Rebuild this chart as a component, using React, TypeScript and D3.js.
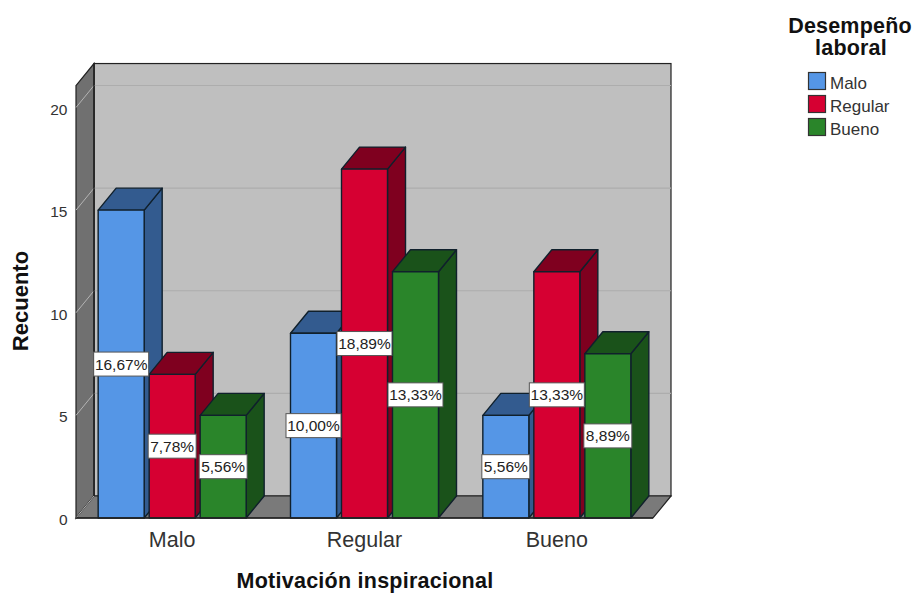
import React from "react";
import * as d3 from "d3";

const categories = ["Malo", "Regular", "Bueno"];
const seriesNames = ["Malo", "Regular", "Bueno"];
const malo = [15, 9, 5];
const regular = [7, 17, 12];
const bueno = [5, 12, 8];
const maloLabels = ["16,67%", "10,00%", "5,56%"];
const regularLabels = ["7,78%", "18,89%", "13,33%"];
const buenoLabels = ["5,56%", "13,33%", "8,89%"];
const yTicks = [0, 5, 10, 15, 20];
const frontColors = ["#5596e6", "#d60032", "#2a852a"];
const topColors = ["#335b8f", "#7f001f", "#1a521a"];
const sideColors = ["#335b8f", "#7f001f", "#1a521a"];

const values = [malo, regular, bueno];
const labels = [maloLabels, regularLabels, buenoLabels];
const font = "'Liberation Sans', Arial, sans-serif";

const W = 916;
const H = 593;
const left = 76;
const right = 653;
const base = 518;
const dx = 18;
const dy = -22;
const groupWidth = 148;

const y = d3.scaleLinear().domain([0, 20]).range([base, 107.5]);
const yMax = y(21.07);
const x0 = d3.scaleBand<string>().domain(categories).range([left, right]);
const x1 = d3
  .scaleBand<string>()
  .domain(seriesNames)
  .range([0, groupWidth])
  .paddingInner(0.098)
  .paddingOuter(0);

const pts = (p: number[][]) => p.map((q) => q.join(",")).join(" ");
const barStart = (cat: number, s: number) =>
  x0(categories[cat])! + (x0.bandwidth() - groupWidth) / 2 + x1(seriesNames[s])!;

function Bar({ cat, s }: { cat: number; s: number }) {
  const v = values[s][cat];
  const a = barStart(cat, s);
  const b = a + x1.bandwidth();
  const t = y(v);
  const edge = { stroke: "#10202c", strokeWidth: 1.4, strokeLinejoin: "round" as const };
  return (
    <g>
      <polygon
        points={pts([[b, t], [b + dx, t + dy], [b + dx, base + dy], [b, base]])}
        fill={sideColors[s]}
        {...edge}
      />
      <polygon
        points={pts([[a, t], [a + dx, t + dy], [b + dx, t + dy], [b, t]])}
        fill={topColors[s]}
        {...edge}
      />
      <rect x={a} y={t} width={b - a} height={base - t} fill={frontColors[s]} {...edge} />
    </g>
  );
}

function BarLabel({ cat, s }: { cat: number; s: number }) {
  const v = values[s][cat];
  const cx = barStart(cat, s) + x1.bandwidth() / 2;
  const cy = y(v / 2);
  const text = labels[s][cat];
  const w = text.length >= 6 ? 55 : 48;
  return (
    <g>
      <rect
        x={cx - w / 2}
        y={cy - 12}
        width={w}
        height={24}
        fill="#ffffff"
        stroke="#555555"
        strokeWidth={1}
      />
      <text
        x={cx}
        y={cy + 5.5}
        textAnchor="middle"
        fontSize={15.5}
        fontFamily={font}
        fill="#222222"
      >
        {text}
      </text>
    </g>
  );
}

export default function App() {
  return (
    <svg
      width={W}
      height={H}
      viewBox={`0 0 ${W} ${H}`}
      style={{ position: "absolute", left: 0, top: 0, background: "#ffffff" }}
    >
      {/* Back wall */}
      <rect
        x={left + dx}
        y={yMax + dy}
        width={right - left}
        height={base - yMax}
        fill="#bfbfbf"
        stroke="#222222"
        strokeWidth={1.2}
      />
      {/* Side wall */}
      <polygon
        points={pts([
          [left, yMax],
          [left + dx, yMax + dy],
          [left + dx, base + dy],
          [left, base],
        ])}
        fill="#707070"
        stroke="#222222"
        strokeWidth={1.2}
      />
      {/* Floor */}
      <polygon
        points={pts([
          [left, base],
          [left + dx, base + dy],
          [right + dx, base + dy],
          [right, base],
        ])}
        fill="#7a7a7a"
        stroke="#222222"
        strokeWidth={1.2}
      />
      {/* Gridlines on the back and side walls */}
      {yTicks
        .filter((t) => t > 0)
        .map((t) => (
          <g key={t}>
            <line
              x1={left + dx}
              x2={right + dx}
              y1={y(t) + dy}
              y2={y(t) + dy}
              stroke="#adadad"
              strokeWidth={1.2}
            />
            <line
              x1={left}
              x2={left + dx}
              y1={y(t)}
              y2={y(t) + dy}
              stroke="#b4b4b4"
              strokeWidth={1}
            />
          </g>
        ))}
      <line
        x1={left}
        x2={left + dx}
        y1={base}
        y2={base + dy}
        stroke="#b4b4b4"
        strokeWidth={1}
      />
      <line x1={left + dx} x2={left + dx} y1={yMax + dy} y2={base + dy} stroke="#222222" strokeWidth={1.4} />

      {/* Bars */}
      {categories.map((_, c) =>
        seriesNames.map((_, s) => <Bar key={`${c}-${s}`} cat={c} s={s} />)
      )}

      {/* Front edge of the plot floor */}
      <line x1={left} x2={right} y1={base} y2={base} stroke="#222222" strokeWidth={1.4} />

      {/* Value labels */}
      {categories.map((_, c) =>
        seriesNames.map((_, s) => <BarLabel key={`${c}-${s}`} cat={c} s={s} />)
      )}

      {/* Y axis */}
      {yTicks.map((t) => (
        <text
          key={t}
          x={67.5}
          y={y(t) + 7}
          textAnchor="end"
          fontSize={15.5}
          fontFamily={font}
          fill="#333333"
        >
          {t}
        </text>
      ))}
      <text
        transform="translate(28,301) rotate(-90)"
        textAnchor="middle"
        fontSize={22}
        fontWeight="bold"
        fontFamily={font}
        fill="#111111"
      >
        Recuento
      </text>

      {/* X axis */}
      {categories.map((c) => (
        <text
          key={c}
          x={x0(c)! + x0.bandwidth() / 2}
          y={547}
          textAnchor="middle"
          fontSize={21.5}
          fontFamily={font}
          fill="#333333"
        >
          {c}
        </text>
      ))}
      <text
        x={365}
        y={588}
        textAnchor="middle"
        fontSize={21.5}
        letterSpacing={0.25}
        fontWeight="bold"
        fontFamily={font}
        fill="#111111"
      >
        Motivación inspiracional
      </text>

      {/* Legend */}
      <text x={850} y={32.5} textAnchor="middle" fontSize={21.5} letterSpacing={0.2} fontWeight="bold" fontFamily={font} fill="#111111">
        Desempeño
      </text>
      <text x={851} y={55} textAnchor="middle" fontSize={21.5} letterSpacing={0.2} fontWeight="bold" fontFamily={font} fill="#111111">
        laboral
      </text>
      {seriesNames.map((n, i) => (
        <g key={n}>
          <rect
            x={808.5}
            y={72.5 + i * 23}
            width={17}
            height={17}
            fill={frontColors[i]}
            stroke="#333333"
            strokeWidth={1.2}
          />
          <text x={830} y={88.5 + i * 23} fontSize={17} fontFamily={font} fill="#333333">
            {n}
          </text>
        </g>
      ))}
    </svg>
  );
}
